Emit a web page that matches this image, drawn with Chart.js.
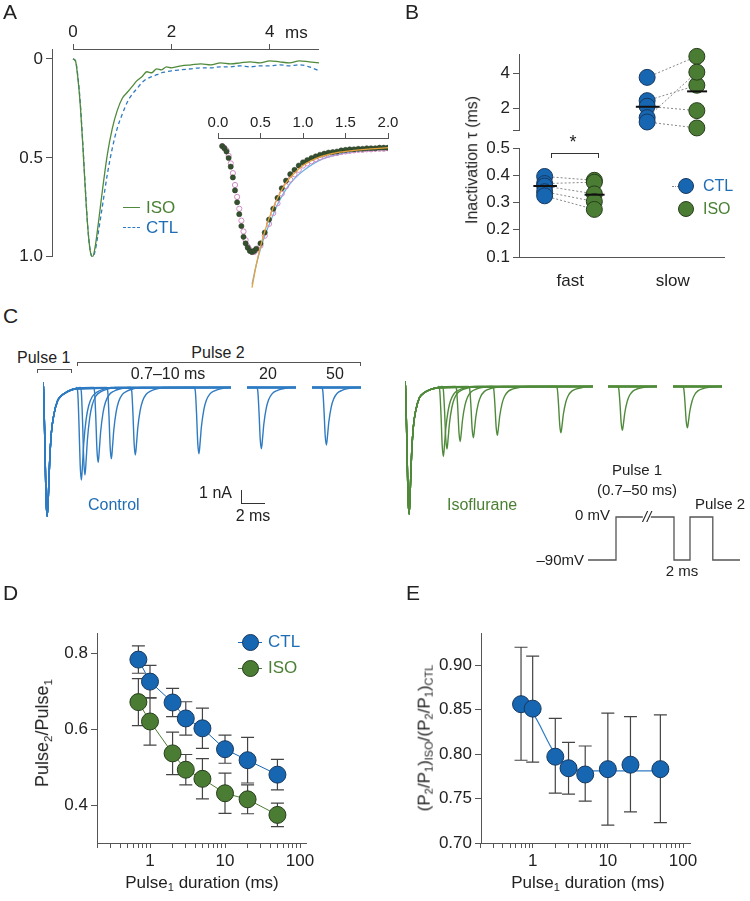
<!DOCTYPE html>
<html>
<head>
<meta charset="utf-8">
<script src="https://cdn.jsdelivr.net/npm/chart.js@4.4.1/dist/chart.umd.min.js"></script>
<style>
body{margin:0;background:#fff}
#fig{position:relative;width:750px;height:901px;overflow:hidden;font-family:'Liberation Sans',Arial,sans-serif;color:#222}
#fig div{position:absolute}
sub{font-size:65%;vertical-align:-0.3em;line-height:0}
</style>
</head>
<body>
<div id="fig"></div>
<script>
// ---- A: normalized current (time in ms)
const aTime = [0, 0.05, 0.1, 0.15, 0.2, 0.25, 0.3, 0.35, 0.4, 0.45, 0.5, 0.55, 0.6, 0.7, 0.8, 0.9, 1.0, 1.1, 1.2, 1.3, 1.4, 1.5, 1.6, 1.7, 1.8, 1.9, 2.0, 2.2, 2.4, 2.6, 2.8, 3.0, 3.2, 3.4, 3.6, 3.8, 4.0, 4.2, 4.4, 4.6, 4.8, 5.0];
const aIso = [0, 0.01, 0.1, 0.24, 0.44, 0.66, 0.85, 0.97, 1.0, 0.95, 0.86, 0.76, 0.66, 0.48, 0.35, 0.26, 0.2, 0.17, 0.14, 0.11, 0.09, 0.065, 0.07, 0.05, 0.055, 0.04, 0.045, 0.035, 0.03, 0.025, 0.03, 0.02, 0.025, 0.02, 0.015, 0.02, 0.01, 0.015, 0.02, 0.01, 0.015, 0.02];
const aCtl = [0, 0.01, 0.09, 0.23, 0.43, 0.65, 0.85, 0.97, 1.0, 0.97, 0.9, 0.82, 0.74, 0.58, 0.45, 0.35, 0.28, 0.22, 0.18, 0.15, 0.12, 0.1, 0.09, 0.08, 0.07, 0.065, 0.06, 0.055, 0.05, 0.045, 0.045, 0.04, 0.04, 0.035, 0.04, 0.035, 0.035, 0.03, 0.035, 0.03, 0.04, 0.06];

// A inset
const inTime = [0.05, 0.075, 0.1, 0.125, 0.15, 0.175, 0.2, 0.225, 0.25, 0.275, 0.3, 0.325, 0.35, 0.375, 0.4, 0.425, 0.45, 0.5, 0.55, 0.6, 0.65, 0.7, 0.75, 0.8, 0.85, 0.9, 0.95, 1.0, 1.05, 1.1, 1.15, 1.2, 1.25, 1.3, 1.35, 1.4, 1.45, 1.5, 1.55, 1.6, 1.65, 1.7, 1.75, 1.8, 1.85, 1.9, 1.95, 2.0];
const inIso = [0.02, 0.04, 0.07, 0.13, 0.21, 0.31, 0.43, 0.54, 0.65, 0.76, 0.86, 0.92, 0.96, 0.99, 1.0, 0.99, 0.97, 0.92, 0.82, 0.7, 0.6, 0.5, 0.41, 0.34, 0.28, 0.24, 0.2, 0.17, 0.15, 0.13, 0.115, 0.1, 0.09, 0.08, 0.075, 0.07, 0.06, 0.055, 0.05, 0.05, 0.045, 0.045, 0.04, 0.04, 0.04, 0.035, 0.035, 0.035];
const inCtl = [0.02, 0.035, 0.06, 0.11, 0.18, 0.27, 0.38, 0.49, 0.6, 0.71, 0.81, 0.89, 0.95, 0.98, 1.0, 1.0, 0.98, 0.94, 0.85, 0.74, 0.64, 0.55, 0.46, 0.39, 0.33, 0.28, 0.24, 0.2, 0.18, 0.16, 0.14, 0.125, 0.11, 0.1, 0.09, 0.085, 0.075, 0.07, 0.065, 0.06, 0.055, 0.055, 0.05, 0.05, 0.045, 0.045, 0.045, 0.04];
const fitTime = [0.4, 0.45, 0.5, 0.55, 0.6, 0.7, 0.8, 0.9, 1.0, 1.2, 1.4, 1.6, 1.8, 2.0];
const fitIso = [1.33, 1.12, 0.95, 0.81, 0.69, 0.5, 0.36, 0.27, 0.2, 0.12, 0.08, 0.06, 0.045, 0.035];
const fitCtl = [1.3, 1.12, 0.97, 0.85, 0.75, 0.56, 0.42, 0.32, 0.25, 0.15, 0.1, 0.07, 0.055, 0.045];

// ---- B: inactivation tau (ms)
const bCats = ['fast', 'slow'];
const fastCtl = [0.396, 0.37, 0.361, 0.34, 0.325];
const fastIso = [0.382, 0.375, 0.332, 0.304, 0.275];
const slowCtl = [3.75, 2.42, 2.1, 1.45, 1.2];
const slowIso = [4.95, 3.3, 1.85, 4.05, 0.86];
const meanCtl = [0.361, 2.07];
const meanIso = [0.329, 2.95];

// ---- C: paired-pulse currents (nA, ms)
const pulseDur = [0.7, 1, 2, 3, 5, 10, 20, 50];
const p2PeakTime = [3.2, 3.5, 4.6, 5.7, 7.7, 13.0, 22.4, 52.4];
const ctlP2Amp = [-7.4, -7.0, -6.0, -5.7, -5.4, -5.3, -4.9, -4.6];
const isoP2Amp = [-5.6, -5.0, -4.4, -4.1, -3.9, -3.7, -3.5, -3.3];
const p1Time = [0, 0.05, 0.15, 0.25, 0.35, 0.45, 0.55, 0.7, 0.9, 1.2, 1.6, 2.1, 2.7];
const ctlP1 = [0.4, -0.2, -4.2, -8.8, -10.3, -8.6, -6.0, -3.6, -2.2, -1.1, -0.6, -0.3, -0.1];
const isoP1 = [0.4, -0.2, -4.2, -8.8, -10.2, -8.0, -5.4, -3.2, -1.9, -0.9, -0.5, -0.25, -0.1];
const p2ShapeT = [0, 0.1, 0.2, 0.3, 0.4, 0.5, 0.6, 0.8, 1.0, 1.3, 1.7, 2.2, 2.9];
const p2Shape = [0, 0.06, 0.4, 0.84, 1.0, 0.82, 0.6, 0.34, 0.2, 0.1, 0.05, 0.02, 0];
const protoTime = [0, 3.5, 3.5, 10.75, 10.75, 12.75, 12.75, 15.6, 15.6, 19];
const protoMv = [-90, -90, 0, 0, -90, -90, 0, 0, -90, -90];

// ---- D: Pulse2/Pulse1
const durD = [0.7, 1, 2, 3, 5, 10, 20, 50];
const ratioCtl = [0.783, 0.725, 0.670, 0.628, 0.602, 0.547, 0.518, 0.480];
const semCtl = [0.036, 0.043, 0.037, 0.044, 0.053, 0.037, 0.06, 0.04];
const ratioIso = [0.671, 0.620, 0.536, 0.493, 0.469, 0.431, 0.415, 0.374];
const semIso = [0.062, 0.062, 0.056, 0.04, 0.053, 0.053, 0.038, 0.031];

// ---- E: normalized ratio
const normRatio = [0.856, 0.851, 0.797, 0.784, 0.777, 0.783, 0.788, 0.783];
const normHi = [0.92, 0.91, 0.84, 0.813, 0.809, 0.846, 0.842, 0.844];
const normLo = [0.793, 0.791, 0.756, 0.755, 0.747, 0.72, 0.735, 0.723];
const fitDur = [0.7, 1, 2, 3, 4, 5, 10, 20, 50];
const fitNorm = [0.857, 0.846, 0.8, 0.787, 0.782, 0.781, 0.781, 0.781, 0.781];

const BLUE = '#1766b2', BLUE_D = '#16385e', GREEN = '#4b7c33', GREEN_D = '#263d1c';
const BLUE_T = '#2f7bc2', GREEN_T = '#4f8a3b', BLUE_TX = '#1f6db5', GREEN_TX = '#4b8034', AX = '#555';

Chart.defaults.font.family = "'Liberation Sans', Arial, sans-serif";
Chart.defaults.font.size = 17;
Chart.defaults.color = '#222';
Chart.defaults.plugins.legend.display = false;
Chart.defaults.plugins.tooltip.enabled = false;
Chart.defaults.animation = false;
Chart.defaults.responsive = false;
Chart.defaults.events = [];

const fig = document.getElementById('fig');
const pts = (xs, ys) => xs.map((x, i) => ({x: x, y: ys[i]}));

function mk(left, top, w, h, cfg) {
  const c = document.createElement('canvas');
  c.width = Math.round(w); c.height = Math.round(h);
  c.style.cssText = 'position:absolute;left:' + left + 'px;top:' + top + 'px';
  fig.appendChild(c);
  cfg.data.datasets.reverse(); // listed bottom-to-top
  return new Chart(c, cfg);
}

function lin(o) {
  return {
    type: o.type || 'linear', position: o.pos, min: o.min, max: o.max, reverse: !!o.rev,
    border: {display: o.border !== false, color: AX, width: 1},
    grid: {display: !o.noMarks, drawOnChartArea: false, drawTicks: true, tickLength: o.tl || 6, color: AX},
    ticks: {autoSkip: false, maxRotation: 0, padding: o.pad != null ? o.pad : 3, font: {size: o.fs || 17},
            callback: o.label || (v => v)},
    afterBuildTicks: sc => { if (o.ticks) sc.ticks = o.ticks.map(v => ({value: v})); },
    afterFit: sc => { if (o.size != null) { if (sc.isHorizontal()) sc.height = o.size; else sc.width = o.size; } }
  };
}

const logTicks = [0.2, 0.3, 0.4, 0.5, 0.6, 0.7, 0.8, 0.9, 1, 2, 3, 4, 5, 6, 7, 8, 9, 10, 20, 30, 40, 50, 60, 70, 80, 90, 100];
function logx(min, max) {
  return lin({type: 'logarithmic', min: min, max: max, ticks: logTicks, size: 32, tl: 5, pad: 3,
              label: v => (v === 1 || v === 10 || v === 100) ? String(v) : ''});
}

// error bars drawn with the chart's own scales
function errPlugin(sets) {
  return {id: 'errbars', beforeDatasetsDraw(ch) {
    const c = ch.ctx, xs = ch.scales.x, ys = ch.scales.y;
    c.save(); c.strokeStyle = '#444'; c.lineWidth = 1.2;
    sets.forEach(s => s.x.forEach((xv, i) => {
      const px = xs.getPixelForValue(xv), lo = ys.getPixelForValue(s.lo[i]), hi = ys.getPixelForValue(s.hi[i]);
      c.beginPath();
      c.moveTo(px, lo); c.lineTo(px, hi);
      c.moveTo(px - 6.5, lo); c.lineTo(px + 6.5, lo);
      c.moveTo(px - 6.5, hi); c.lineTo(px + 6.5, hi);
      c.stroke();
    }));
    c.restore();
  }};
}
// detached top axis line for panel A
function spinePlugin(from, to) {
  return {id: 'spine', afterDraw(ch) {
    const s = ch.scales.x, y = Math.round(ch.chartArea.top) + 0.5, c = ch.ctx;
    c.save(); c.strokeStyle = AX; c.lineWidth = 1;
    c.beginPath(); c.moveTo(s.getPixelForValue(from), y); c.lineTo(s.getPixelForValue(to), y); c.stroke();
    c.restore();
  }};
}

// ---------- A main
mk(0, 20, 330, 250, {
  type: 'line',
  data: {datasets: [
    {data: pts(aTime, aCtl), borderColor: BLUE_T, borderDash: [4, 3], borderWidth: 1.3},
    {data: pts(aTime, aIso), borderColor: GREEN_T, borderWidth: 1.3}
  ]},
  options: {
    layout: {padding: {top: 0, right: 11, bottom: 11, left: 0}},
    elements: {point: {radius: 0}, line: {cubicInterpolationMode: 'monotone'}},
    scales: {
      x: lin({pos: 'top', min: -0.427, max: 5, ticks: [0, 2, 4], size: 29, border: false, tl: 5, pad: 1}),
      y: lin({min: -0.05, max: 1, rev: true, ticks: [0, 0.5, 1], size: 52, label: v => v === 0 ? '0' : v.toFixed(1)})
    }
  },
  plugins: [spinePlugin(0, 5)]
});

// ---------- A inset
mk(190, 100, 210, 195, {
  type: 'line',
  data: {datasets: [
    {data: pts(fitTime, fitCtl), borderColor: '#6fb3e6', borderWidth: 1.3, pointRadius: 0},
    {data: pts(inTime, inCtl), showLine: false, pointRadius: 2.6, pointBackgroundColor: 'rgba(255,255,255,0)', pointBorderColor: '#d389c6', pointBorderWidth: 1},
    {data: pts(inTime, inIso), showLine: false, pointRadius: 2.6, pointBackgroundColor: '#34502e', pointBorderColor: '#2a3f26', pointBorderWidth: 0.5},
    {data: pts(fitTime, fitIso), borderColor: '#e7a33e', borderWidth: 1.3, pointRadius: 0}
  ]},
  options: {
    layout: {padding: {left: 28, right: 12, bottom: 5, top: 0}},
    elements: {line: {cubicInterpolationMode: 'monotone'}},
    scales: {
      x: lin({pos: 'top', min: 0, max: 2, ticks: [0, 0.5, 1, 1.5, 2], size: 38, fs: 15, tl: 5, pad: 1, label: v => v.toFixed(1)}),
      y: {display: false, min: -0.055, max: 1.352, reverse: true}
    }
  }
});

// ---------- B
function bSets(c, ctl, iso) {
  const cx = 1 + 2 * c, xc = cx - 0.5, xi = cx + 0.47;
  const sets = [];
  ctl.forEach((v, i) => sets.push({data: [{x: xc, y: v}, {x: xi, y: iso[i]}], borderColor: '#888', borderWidth: 1, borderDash: [2, 2], pointRadius: 0}));
  sets.push({data: ctl.map(v => ({x: xc, y: v})), showLine: false, pointRadius: 8, pointBackgroundColor: BLUE, pointBorderColor: BLUE_D, pointBorderWidth: 1});
  sets.push({data: iso.map(v => ({x: xi, y: v})), showLine: false, pointRadius: 8, pointBackgroundColor: GREEN, pointBorderColor: GREEN_D, pointBorderWidth: 1});
  sets.push({data: [{x: xc - 0.22, y: meanCtl[c]}, {x: xc + 0.24, y: meanCtl[c]}], borderColor: '#111', borderWidth: 2, pointRadius: 0});
  sets.push({data: [{x: xi - 0.19, y: meanIso[c]}, {x: xi + 0.2, y: meanIso[c]}], borderColor: '#111', borderWidth: 2, pointRadius: 0});
  sets.forEach(s => { s.clip = false; });
  return sets;
}
mk(470, 40, 270, 105, {
  type: 'line',
  data: {datasets: bSets(1, slowCtl, slowIso)},
  options: {
    layout: {padding: {top: 14, right: 16, bottom: 15, left: 0}},
    scales: {
      x: {type: 'linear', display: false, min: 0, max: 4},
      y: lin({min: 0.743, max: 5.086, ticks: [0.743, 2, 4], size: 49, label: v => v < 1 ? '' : String(v)})
    }
  }
});
mk(470, 135, 270, 160, {
  type: 'line',
  data: {datasets: bSets(0, fastCtl, fastIso)},
  options: {
    layout: {padding: {top: 10, right: 16, bottom: 0, left: 0}},
    scales: {
      x: lin({min: 0, max: 4, ticks: [1, 3], size: 38, noMarks: true, pad: 8, label: v => bCats[(v - 1) / 2]}),
      y: lin({min: 0.1, max: 0.5, ticks: [0.1, 0.2, 0.3, 0.4, 0.5], size: 49, label: v => v.toFixed(1)})
    }
  }
});

// ---------- C traces
function buildTrace(p1, amp, k, t0, t1) {
  const out = [];
  const onset = p2PeakTime[k] - 0.4;
  if (t0 === 0) p1Time.forEach((t, j) => { if (t < onset) out.push({x: t, y: p1[j]}); });
  else out.push({x: t0, y: 0});
  if (onset >= t0 && onset < t1) p2ShapeT.forEach((t, j) => out.push({x: onset + t, y: p2Shape[j] * amp[k]}));
  out.push({x: t1, y: 0});
  return out;
}
function seg(left, top, t0, t1, p1, amp, color) {
  mk(left - 5, top - 5, (t1 - t0) * 12 + 10, 151, {
    type: 'line',
    data: {datasets: pulseDur.map((d, k) => ({data: buildTrace(p1, amp, k, t0, t1), borderColor: color, borderWidth: 1.4, pointRadius: 0, cubicInterpolationMode: 'monotone'}))},
    options: {
      layout: {padding: 5},
      scales: {x: {type: 'linear', display: false, min: t0, max: t1}, y: {display: false, min: -10.68, max: 0.6}}
    }
  });
}
seg(43, 380, 0, 15.67, ctlP1, ctlP2Amp, BLUE_T);
seg(247, 380, 21.2, 25.28, ctlP1, ctlP2Amp, BLUE_T);
seg(312, 380, 51.2, 55.28, ctlP1, ctlP2Amp, BLUE_T);
seg(405, 379, 0, 15.67, isoP1, isoP2Amp, GREEN_T);
seg(608, 379, 21.2, 25.28, isoP1, isoP2Amp, GREEN_T);
seg(673, 379, 51.2, 55.28, isoP1, isoP2Amp, GREEN_T);

// voltage protocol
mk(583, 510, 162, 57, {
  type: 'line',
  data: {datasets: [{data: pts(protoTime, protoMv), borderColor: AX, borderWidth: 1.3, pointRadius: 0}]},
  options: {scales: {x: {type: 'linear', display: false, min: -0.625, max: 19.625}, y: {display: false, min: -104.65, max: 14.65}}}
});

// ---------- D
mk(0, 600, 340, 275, {
  type: 'line',
  data: {datasets: [
    {data: pts(durD, ratioIso), borderColor: GREEN, borderWidth: 1, pointRadius: 8.5, pointBackgroundColor: GREEN, pointBorderColor: GREEN_D, pointBorderWidth: 1},
    {data: pts(durD, ratioCtl), borderColor: BLUE, borderWidth: 1, pointRadius: 8.5, pointBackgroundColor: BLUE, pointBorderColor: BLUE_D, pointBorderWidth: 1}
  ]},
  options: {
    layout: {padding: {top: 33, right: 34, bottom: 0, left: 0}},
    scales: {
      x: logx(0.1965, 120.2),
      y: lin({min: 0.3, max: 0.853, ticks: [0.4, 0.6, 0.8], size: 97, label: v => v.toFixed(1)})
    }
  },
  plugins: [errPlugin([
    {x: durD, lo: ratioCtl.map((v, i) => v - semCtl[i]), hi: ratioCtl.map((v, i) => v + semCtl[i])},
    {x: durD, lo: ratioIso.map((v, i) => v - semIso[i]), hi: ratioIso.map((v, i) => v + semIso[i])}
  ])]
});

// ---------- E
mk(384, 600, 340, 275, {
  type: 'line',
  data: {datasets: [
    {data: pts(fitDur, fitNorm), borderColor: BLUE_T, borderWidth: 1.2, pointRadius: 0, cubicInterpolationMode: 'monotone'},
    {data: pts(durD, normRatio), showLine: false, pointRadius: 8.5, pointBackgroundColor: BLUE, pointBorderColor: BLUE_D, pointBorderWidth: 1}
  ]},
  options: {
    layout: {padding: {top: 33, right: 34, bottom: 0, left: 0}},
    scales: {
      x: logx(0.2054, 123.9),
      y: lin({min: 0.7, max: 0.936, ticks: [0.7, 0.75, 0.8, 0.85, 0.9], size: 97, label: v => v.toFixed(2)})
    }
  },
  plugins: [errPlugin([{x: durD, lo: normLo, hi: normHi}])]
});

// ---------- text and annotations
function txt(html, x, y, o) {
  o = o || {};
  const d = document.createElement('div');
  d.innerHTML = html;
  const a = o.a || 'l';
  const tx = a === 'c' ? '-50%' : a === 'r' ? '-100%' : '0';
  d.style.cssText = 'left:' + x + 'px;top:' + y + 'px;transform:translate(' + (o.rot ? '-50%' : tx) + ',-50%)' +
    (o.rot ? ' rotate(-90deg)' : '') + ';font-size:' + (o.s || 17) + 'px;color:' + (o.c || '#222') +
    ';white-space:nowrap;line-height:1.1' + (o.bg ? ';background:' + o.bg : '');
  fig.appendChild(d);
}
function box(x, y, w, h, css) {
  const d = document.createElement('div');
  d.style.cssText = 'left:' + x + 'px;top:' + y + 'px;width:' + w + 'px;height:' + h + 'px;' + css;
  fig.appendChild(d);
}
function dot(cx, cy, r, fill, stroke) {
  box(cx - r, cy - r, 2 * r, 2 * r, 'box-sizing:border-box;border-radius:50%;background:' + fill + ';border:1px solid ' + stroke);
}

txt('A', 3, 12, {s: 21});
txt('B', 405, 12, {s: 21});
txt('C', 3, 316, {s: 21});
txt('D', 3, 593, {s: 21});
txt('E', 406, 593, {s: 21});

// A
txt('ms', 285, 33);
box(123, 207, 17, 0, 'border-top:1.5px solid ' + GREEN_T);
box(123, 227, 17, 0, 'border-top:1.5px dashed ' + BLUE_T);
txt('ISO', 146, 208, {c: GREEN_TX});
txt('CTL', 146, 228, {c: BLUE_TX});

// B
txt('*', 573, 143, {a: 'c', s: 18});
box(551, 153, 48, 5, 'box-sizing:border-box;border:1.2px solid #333;border-bottom:none');
txt('Inactivation \u03c4 (ms)', 472, 160, {rot: true, s: 16});
box(672, 186, 12, 0, 'border-top:1px dotted #888');
dot(686, 186, 8, BLUE, BLUE_D);
dot(686, 209, 8, GREEN, GREEN_D);
txt('CTL', 703, 186, {c: BLUE_TX, s: 16});
txt('ISO', 703, 209, {c: GREEN_TX, s: 16});

// C
txt('Pulse 1', 17, 358, {s: 16});
box(37, 369, 35, 4, 'box-sizing:border-box;border:1.2px solid ' + AX + ';border-bottom:none');
txt('Pulse 2', 218, 353, {a: 'c', s: 16});
box(77, 362, 284, 4, 'box-sizing:border-box;border:1.2px solid ' + AX + ';border-bottom:none');
txt('0.7\u201310 ms', 168, 374, {a: 'c', s: 16});
txt('20', 268, 374, {a: 'c', s: 16});
txt('50', 335, 374, {a: 'c', s: 16});
box(241, 490, 0, 13, 'border-left:1.2px solid #333');
box(241, 503, 24, 0, 'border-top:1.2px solid #333');
txt('1 nA', 232, 493, {a: 'r', s: 16});
txt('2 ms', 253, 516, {a: 'c', s: 16});
txt('Control', 88, 505, {c: BLUE_TX, s: 16});
txt('Isoflurane', 447, 505, {c: GREEN_TX, s: 16});
txt('Pulse 1', 637, 470, {a: 'c', s: 15});
txt('(0.7\u201350 ms)', 637, 490, {a: 'c', s: 15});
txt('0 mV', 610, 515, {a: 'r', s: 15});
txt('\u201390mV', 584, 560, {a: 'r', s: 15});
txt('Pulse 2', 695, 504, {s: 15});
txt('2 ms', 682, 571, {a: 'c', s: 15});
txt('<i>//</i>', 647, 517, {a: 'c', s: 15, bg: '#fff'});

// D
txt('Pulse<sub>2</sub>/Pulse<sub>1</sub>', 43, 733, {rot: true, s: 18});
txt('Pulse<sub>1</sub> duration (ms)', 202, 883, {a: 'c', s: 17});
box(238, 642, 24, 0, 'border-top:1px solid ' + BLUE);
dot(250, 642, 8.5, BLUE, BLUE_D);
box(238, 668, 24, 0, 'border-top:1px solid ' + GREEN);
dot(250, 668, 8.5, GREEN, GREEN_D);
txt('CTL', 268, 642, {c: BLUE_TX});
txt('ISO', 268, 668, {c: GREEN_TX});

// E
txt('(P<sub>2</sub>/P<sub>1</sub>)<sub>ISO</sub>/(P<sub>2</sub>/P<sub>1</sub>)<sub>CTL</sub>', 425, 738, {rot: true, s: 17});
txt('Pulse<sub>1</sub> duration (ms)', 588, 883, {a: 'c', s: 17});
</script>
</body>
</html>
